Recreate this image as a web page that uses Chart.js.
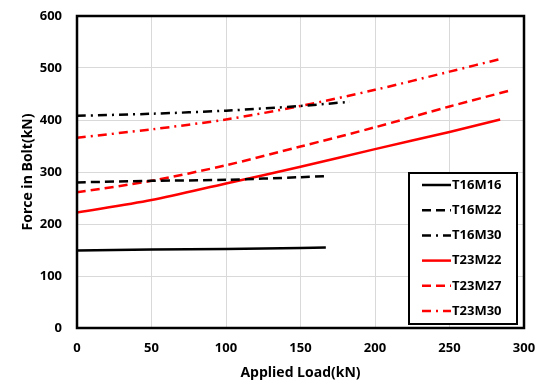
<!DOCTYPE html>
<html>
<head>
<meta charset="utf-8">
<script src="https://cdn.jsdelivr.net/npm/chart.js@4.4.1/dist/chart.umd.min.js"></script>
<style>
  html, body { margin: 0; padding: 0; background: #fff; }
  #wrap { width: 542px; height: 381px; }
</style>
</head>
<body>
<div id="wrap"><canvas id="chart" width="542" height="381"></canvas></div>
<script>
// Datos
const seriesNames = ['T16M16', 'T16M22', 'T16M30', 'T23M22', 'T23M27', 'T23M30'];

const t16m16Load = [0, 50, 100, 150, 167];
const t16m16Force = [149, 151, 152, 154, 155];

const t16m22Load = [0, 50, 100, 150, 166];
const t16m22Force = [280, 283, 285, 290, 292];

const t16m30Load = [0, 50, 100, 150, 183];
const t16m30Force = [408, 412, 418, 427, 435];

const t23m22Load = [0, 50, 100, 150, 200, 250, 284];
const t23m22Force = [222, 246, 278, 310, 344, 377, 401];

const t23m27Load = [0, 50, 100, 150, 200, 250, 291];
const t23m27Force = [261, 283, 313, 349, 386, 426, 457];

const t23m30Load = [0, 50, 100, 150, 200, 250, 285];
const t23m30Force = [366, 382, 401, 427, 458, 493, 518];

const xTicks = [0, 50, 100, 150, 200, 250, 300];
const yTicks = [0, 100, 200, 300, 400, 500, 600];

const FONT = '"Open Sans"';
const DASH = [9, 5];
const DASH_DOT = [9, 5, 2, 5];

function pts(xs, ys) {
    return xs.map((x, i) => ({ x: x, y: ys[i] }));
}

function makeSet(label, xs, ys, color, dash) {
    return {
        label: label,
        data: pts(xs, ys),
        borderColor: color,
        backgroundColor: color,
        borderWidth: 2.5,
        borderDash: dash,
        pointRadius: 0,
        showLine: true,
        fill: false,
        tension: 0.3
    };
}

// quitar el relleno extra que Chart.js deja para las etiquetas
function noPad(s) {
    s.paddingLeft = 0;
    s.paddingRight = 0;
    s.paddingTop = 0;
    s.paddingBottom = 0;
}

// Marco del area del grafico y leyenda dentro del area
const framePlugin = {
    id: 'frame',
    afterDraw(chart) {
        const ctx = chart.ctx;
        const a = chart.chartArea;
        ctx.save();
        ctx.strokeStyle = '#000';
        ctx.lineWidth = 2.5;
        ctx.strokeRect(a.left, a.top, a.right - a.left, a.bottom - a.top);

        // leyenda
        const box = { x: 409, y: 173, w: 108, h: 151 };
        ctx.fillStyle = '#fff';
        ctx.fillRect(box.x, box.y, box.w, box.h);
        ctx.lineWidth = 2;
        ctx.strokeRect(box.x, box.y, box.w, box.h);

        ctx.font = 'bold 13px ' + FONT;
        ctx.textBaseline = 'middle';
        ctx.textAlign = 'left';
        chart.data.datasets.forEach((ds, i) => {
            const yy = 185 + i * 25.2;
            ctx.beginPath();
            ctx.strokeStyle = ds.borderColor;
            ctx.lineWidth = 2.5;
            ctx.setLineDash(ds.borderDash || []);
            ctx.moveTo(422, yy);
            ctx.lineTo(451, yy);
            ctx.stroke();
            ctx.setLineDash([]);
            ctx.fillStyle = '#000';
            ctx.fillText(ds.label, 452, yy);
        });
        ctx.restore();
    }
};

document.addEventListener('DOMContentLoaded', () => {
    const ctx = document.getElementById('chart').getContext('2d');
    new Chart(ctx, {
        type: 'scatter',
        data: {
            datasets: [
                makeSet(seriesNames[0], t16m16Load, t16m16Force, '#000000', []),
                makeSet(seriesNames[1], t16m22Load, t16m22Force, '#000000', DASH),
                makeSet(seriesNames[2], t16m30Load, t16m30Force, '#000000', DASH_DOT),
                makeSet(seriesNames[3], t23m22Load, t23m22Force, '#ff0000', []),
                makeSet(seriesNames[4], t23m27Load, t23m27Force, '#ff0000', DASH),
                makeSet(seriesNames[5], t23m30Load, t23m30Force, '#ff0000', DASH_DOT)
            ]
        },
        options: {
            responsive: false,
            animation: false,
            layout: { padding: { left: 0, right: 18, top: 16, bottom: 0 } },
            plugins: {
                legend: { display: false },
                tooltip: { enabled: false }
            },
            scales: {
                x: {
                    type: 'linear',
                    min: 0,
                    max: 300,
                    afterBuildTicks: (s) => { s.ticks = xTicks.map(v => ({ value: v })); },
                    afterFit: (s) => { s.height = 53; noPad(s); },
                    grid: { color: '#d9d9d9', lineWidth: 1, drawTicks: false },
                    border: { display: false },
                    ticks: {
                        padding: 12,
                        color: '#000',
                        font: { family: FONT, size: 13, weight: 'bold' }
                    },
                    title: {
                        display: true,
                        text: 'Applied Load(kN)',
                        color: '#000',
                        padding: { top: 0, bottom: 0 },
                        font: { family: FONT, size: 14, weight: 'bold' }
                    }
                },
                y: {
                    type: 'linear',
                    min: 0,
                    max: 600,
                    afterBuildTicks: (s) => { s.ticks = yTicks.map(v => ({ value: v })); },
                    afterFit: (s) => { s.width = 77; noPad(s); },
                    grid: { color: '#d9d9d9', lineWidth: 1, drawTicks: false },
                    border: { display: false },
                    ticks: {
                        padding: 15,
                        color: '#000',
                        font: { family: FONT, size: 13, weight: 'bold' }
                    },
                    title: {
                        display: true,
                        text: 'Force in Bolt(kN)',
                        color: '#000',
                        padding: { top: 20, bottom: 0 },
                        font: { family: FONT, size: 14, weight: 'bold' }
                    }
                }
            }
        },
        plugins: [framePlugin]
    });
});
</script>
</body>
</html>
